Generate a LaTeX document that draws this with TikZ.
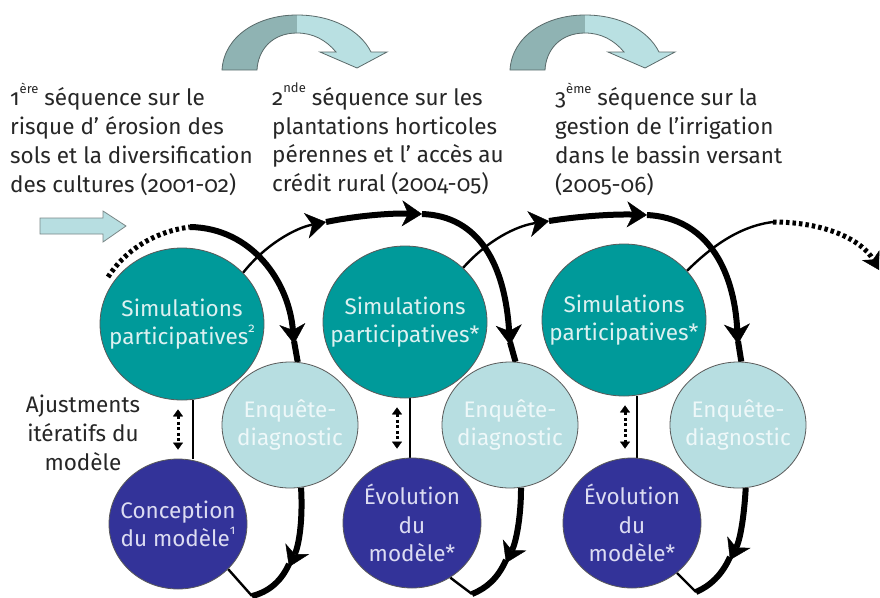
\documentclass[tikz,border=0pt]{standalone}
\usepackage{fontspec}
\setmainfont{Fira Sans}[Numbers=OldStyle]
\usetikzlibrary{arrows.meta,shapes.geometric,calc}
\pgfdeclarelayer{bg}
\pgfsetlayers{bg,main}
\definecolor{tealA}{HTML}{009A9A}
\definecolor{lightA}{HTML}{B7DEE1}
\definecolor{navyA}{HTML}{333399}
\definecolor{simT}{HTML}{DDF1F1}
\definecolor{enqT}{HTML}{EEF8F9}
\definecolor{evoT}{HTML}{DCDCF2}
\definecolor{arrD}{HTML}{8FB3B3}
\definecolor{arrL}{HTML}{B9E0E2}
\definecolor{grayA}{HTML}{5A6A6A}
\definecolor{txtA}{HTML}{262626}
\newcommand\supx[1]{\raisebox{0.55em}{\fontsize{13}{13}\selectfont #1}}
\begin{document}
\begin{tikzpicture}[x=1pt,y=-1pt,
  circ/.style={ellipse,draw=black!65,line width=0.8pt,inner sep=-40pt,align=center,font=\fontsize{22.5}{28.5}\selectfont},
  sim/.style={circ,fill=tealA,text=simT,minimum width=164pt,minimum height=152pt},
  enq/.style={circ,fill=lightA,text=enqT,minimum width=136pt,minimum height=126pt},
  evo/.style={circ,fill=navyA,text=evoT,minimum width=138pt,minimum height=130pt},
  toptext/.style={anchor=north west,align=left,inner sep=0pt,text=txtA,font=\fontsize{22.5}{28.7}\selectfont},
  thickl/.style={line width=6pt},
  thinl/.style={line width=2.4pt},
  halo/.style={preaction={draw=white,line width=12pt}},
  tipb/.style={-{Stealth[length=20pt,width=26pt,inset=6pt,line width=0.4pt]}},
  dotl/.style={line width=5pt,dash pattern=on 3.5pt off 3pt},
  adj/.style={line width=3pt,dash pattern=on 3pt off 2.5pt,{Triangle[length=7pt,width=10pt,line width=0.3pt]}-{Triangle[length=7pt,width=10pt,line width=0.3pt]}},
  bendarr/.style={draw=grayA,line width=0.8pt,fill=arrL,path picture={\fill[arrD] (path picture bounding box.north west) rectangle ([xshift=75pt]path picture bounding box.south west);}},
]
\useasboundingbox (0,0) rectangle (880,597);

% circles
\node[sim] (sim1) at (182,324) {Simulations\\participatives\supx{2}};
\node[sim] (sim2) at (405,322) {Simulations\\participatives*};
\node[sim] (sim3) at (624,320) {Simulations\\participatives*};
\node[evo] (evo1) at (178,524) {Conception\\du modèle\supx{1}};
\node[evo] (evo2) at (412,523) {Évolution\\du\\modèle*};
\node[evo] (evo3) at (632,523) {Évolution\\du\\modèle*};
\node[enq] (enq1) at (290,425) {Enquête-\\diagnostic};
\node[enq] (enq2) at (510,425) {Enquête-\\diagnostic};
\node[enq] (enq3) at (738,425) {Enquête-\\diagnostic};

% texts
\node[toptext] (s1) at (10,83) {1\supx{ère} séquence sur le\\risque d’ érosion des\\sols et la diversification\\des cultures (2001-02)};
\node[toptext] (s2) at (272,83) {2\supx{nde} séquence sur les\\plantations horticoles\\pérennes et l’ accès au\\crédit rural (2004-05)};
\node[toptext] (s3) at (555,83) {3\supx{ème} séquence sur la\\gestion de l’irrigation\\dans le bassin versant\\(2005-06)};
\node[align=center,inner sep=0pt,text=txtA,font=\fontsize{22.5}{29}\selectfont] (adjt) at (83,433) {Ajustments\\itératifs du\\modèle};

% block arrows
\foreach \dx in {0,288}{
  \path[bendarr,xshift=\dx pt] (222,70) .. controls (224,36) and (258,15) .. (297,15) .. controls (332,15) and (360,30) .. (371,52) -- (387,52) -- (357,68) -- (320,52) -- (336,52) .. controls (326,40) and (313,33) .. (297,33) .. controls (272,33) and (258,50) .. (257,70) -- cycle;
}
\draw[fill=lightA,draw=grayA!80,line width=0.8pt] (40,218) -- (103,218) -- (103,211) -- (126,226) -- (103,242) -- (103,234) -- (40,234) -- cycle;

\begin{pgfonlayer}{bg}
\fill[white] (0,0) rectangle (880,597);
% group 1
\coordinate (D1) at (108,277);
\coordinate (T1) at (190,227);
\coordinate (B1) at (252,596);
\draw[dotl] (D1) .. controls (124,252) and (152,232) .. (T1);
\draw[thickl,halo,tipb] (T1) .. controls (252,228) and (289,282) .. (294,344);
\draw[thickl] (294,341) -- (enq1.83);
\draw[thickl,tipb] (enq1.-80) .. controls (303,520) and (299,545) .. (289,567);
\draw[thickl] (289,564) .. controls (281,582) and (268,592) .. (B1);
\draw[thinl] (evo1.-42) -- (B1);
\draw[thinl] ([xshift=11pt]sim1.south) -- ([xshift=15pt]evo1.north);
\draw[adj] ($(sim1.south)+(-4,9)$) -- ($(evo1.north)+(0,-9)$);
% group 2
\coordinate (A2) at (326,222);
\coordinate (C2) at (422,214);
\coordinate (B2) at (472,594);
\draw[thinl,tipb] (sim1.40) .. controls (265,245) and (295,228) .. (A2);
\draw[thickl,tipb] (A2) .. controls (355,216) and (390,213) .. (C2);
\draw[thickl,halo,tipb] (C2) .. controls (480,216) and (505,266) .. (510,345);
\draw[thickl] (510,342) -- (enq2.85);
\draw[thickl,tipb] (enq2.-80) .. controls (521,518) and (516,542) .. (506,563);
\draw[thickl] (506,560) .. controls (498,578) and (487,588) .. (B2);
\draw[thinl] (evo2.-55) -- (B2);
\draw[thinl] ([xshift=5pt]sim2.south) -- ([xshift=-2pt]evo2.north);
\draw[adj] ($(sim2.south)+(-8,9)$) -- ($(evo2.north)+(-15,-9)$);
% group 3
\coordinate (A3) at (549,221);
\coordinate (C3) at (647,215);
\coordinate (B3) at (696,592);
\draw[thinl,tipb] (sim2.43) .. controls (488,240) and (516,226) .. (A3);
\draw[thickl,tipb] (A3) .. controls (580,216) and (615,214) .. (C3);
\draw[thickl,halo,tipb] (C3) .. controls (706,218) and (734,268) .. (738,344);
\draw[thickl] (738,341) -- (enq3.87);
\draw[thickl,tipb] (enq3.-83) .. controls (744,518) and (740,540) .. (730,560);
\draw[thickl] (730,557) .. controls (722,575) and (710,586) .. (B3);
\draw[thinl] (evo3.-48) -- (B3);
\draw[thinl] ([xshift=13pt]sim3.south) -- ([xshift=5pt]evo3.north);
\draw[adj] ($(sim3.south)+(1,9)$) -- ($(evo3.north)+(-7,-9)$);
% group 4
\coordinate (A4) at (773,222);
\coordinate (E4) at (879,270);
\draw[thinl] (sim3.38) .. controls (712,246) and (740,226) .. (A4);
\draw[dotl,-{Stealth[length=17pt,width=20pt,inset=5pt,line width=0.4pt]}] (A4) .. controls (825,222) and (862,240) .. (E4);
\end{pgfonlayer}
\end{tikzpicture}
\end{document}
